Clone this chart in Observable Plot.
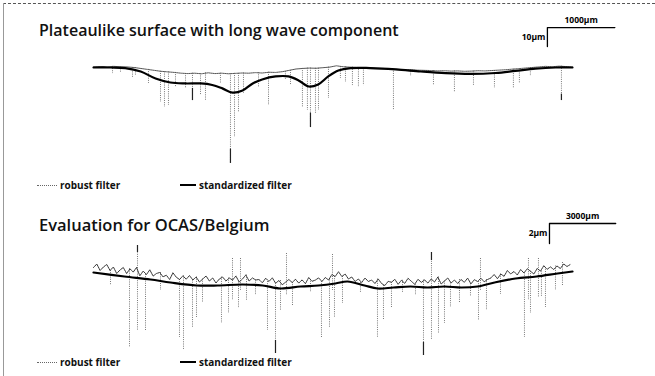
<!DOCTYPE html>
<html><head><meta charset="utf-8">
<script src="https://cdn.jsdelivr.net/npm/d3@7"></script>
<script src="https://cdn.jsdelivr.net/npm/@observablehq/plot@0.6"></script>
<style>
html,body{margin:0;padding:0;background:#fff;}
#page{position:relative;width:655px;height:376px;overflow:hidden;font-family:"Open Sans",sans-serif;color:#111;}
.frameTop{position:absolute;left:3px;top:3px;width:652px;border-top:1px dashed #555;}
.frameLeft{position:absolute;left:3px;top:3px;height:373px;border-left:1px solid #999;}
.title{position:absolute;left:39px;font-size:16px;line-height:16px;font-weight:600;white-space:nowrap;}
.legend{position:absolute;font-size:10px;line-height:10px;font-weight:700;display:flex;align-items:center;white-space:nowrap;}
.sw{display:inline-block;margin-right:3px;}
.plot{position:absolute;left:0;}
</style></head><body>
<div id="page">
  <div class="frameTop"></div><div class="frameLeft"></div>
  <div class="title" id="t1" style="top:22px"></div>
  <div class="title" id="t2" style="top:217px;font-size:16.5px"></div>
  <div class="plot" id="p1" style="top:0px"></div>
  <div class="plot" id="p2" style="top:190px"></div>
  <div id="legends"></div>
</div>
<script>
// ---------- data ----------
const titles = ["Plateaulike surface with long wave component", "Evaluation for OCAS/Belgium"];
const legendLabels = ["robust filter", "standardized filter"];

// Panel 1: profile length 7100 µm, heights in µm
const xMax1 = 7100;
const robust1Step = 100;
const robust1 = [0.3,0.5,0.2,0.6,0.4,0.3,0,-0.5,-1.0,-1.5,
  -2.0,-2.3,-2.6,-3.0,-3.2,-3.0,-3.3,-2.8,-3.2,-3.0,
  -3.3,-3.1,-2.9,-3.0,-2.7,-2.9,-2.5,-2.6,-2.2,-1.5,
  -0.8,-0.5,-0.3,-0.4,-0.1,0.2,0.9,0.4,0.2,0,
  -0.2,-0.1,-0.4,-0.5,-0.8,-0.9,-1.2,-1.1,-1.4,-1.5,
  -1.6,-1.8,-1.7,-1.9,-1.8,-2.0,-1.9,-1.7,-1.8,-1.6,
  -1.4,-1.2,-0.9,-0.6,-0.3,0,0.3,0.6,0.4,0.7,
  0.5,0.3];
const std1X = [0,250,470,700,920,1140,1360,1590,1760,1910,2060,2210,2360,2500,2700,2890,3040,3190,3330,3480,3630,3810,4100,4480,4850,5220,5590,5960,6250,6550,6850,7100];
const std1V = [0,0,-0.3,-2.1,-5.8,-7.9,-8.4,-8.4,-9.2,-11,-13.2,-12.1,-8.4,-6.3,-4.7,-4.7,-6.8,-10,-8.9,-4.7,-1.6,-0.3,-0.3,-1,-2.1,-3,-3.4,-2.9,-1.8,-0.6,0,0];
const spike1X = [282,400,578,622,815,993,1052,1111,1215,1364,1467,1586,1660,1882,2030,2090,2149,2223,2446,2594,2845,2920,3097,3171,3216,3290,3335,3483,3660,3735,3838,3927,4001,4446,4700,5039,5350,5632,5943,6224,6313,6476,6936];
const spike1Depth = [-3.2,-2.6,-5.3,-4.2,-8.4,-18.4,-21,-20,-10.5,-11,-17.4,-14.7,-17.4,-8.4,-50.5,-36.8,-23.7,-13.7,-10.5,-20,-6.8,-9.5,-21,-22.6,-31.6,-24.2,-22.6,-16.3,-5.8,-7.9,-9.5,-10.5,-9.5,-22.6,-4.7,-9.5,-13.2,-9.5,-11,-11,-8.4,-4.7,-17.4];
// dark solid lower ends of some valleys
const tip1X = [1467, 2030, 3216, 6936];
const tip1From = [-11, -43, -24, -14];
const tip1To = [-17.4, -50.5, -31.6, -17.4];
const scale1 = {length: 1000, height: 10, xLabel: "1000µm", yLabel: "10µm"};

// Panel 2: profile length 21700 µm, heights in µm
const xMax2 = 21700;
const robust2Step = 150;
const robust2 = [0.3,0.65,0,0.35,0.6,0,0.35,-0.3,0.05,0.3,
  -0.3,0.17,-0.16,0.3,-0.53,-0.06,-0.4,0.07,-0.56,-0.3,
  -0.2,-0.63,-0.47,-0.9,-0.23,-0.67,-0.9,-0.53,-0.87,-0.5,
  -0.95,-0.65,-1.15,-0.85,-0.55,-1.05,-0.75,-1.25,-0.85,-0.65,
  -1.05,-0.75,-0.95,-0.55,-1.15,-0.85,-0.45,-1.05,-0.75,-0.95,
  -0.9,-1.23,-0.77,-1.1,-0.73,-1.27,-1.0,-1.43,-1.17,-0.9,
  -1.2,-0.88,-1.26,-0.94,-1.32,-0.7,-1.08,-0.96,-0.74,-1.1,
  -0.7,-0.95,-0.4,-0.6,-0.12,-0.6,-0.35,-0.85,-0.65,-1.1,
  -0.85,-1.2,-0.75,-1.1,-0.95,-1.3,-0.85,-1.3,-1.5,-1.08,
  -1.18,-0.88,-1.38,-0.98,-1.28,-0.78,-1.08,-1.38,-0.88,-1.18,
  -0.95,-1.25,-0.85,-1.15,-0.65,-1.35,-1.05,-0.75,-1.25,-0.95,
  -1.3,-0.9,-1.18,-0.76,-1.34,-0.92,-1.1,-0.77,-1.13,-0.9,
  -0.75,-0.4,-0.82,-0.35,-0.58,0,-0.35,-0.1,-0.45,0.1,
  -0.25,0.18,-0.08,-0.35,0.2,-0.06,0.48,0.12,0.36,0.1,
  0.45,0.2,0.65,0.4,0.6];
const std2X = [0,1400,2580,3490,4670,5620,6750,7660,8470,9380,10190,10960,11510,12280,12870,13590,14360,15130,15900,16670,17400,18170,19120,20070,21020,21700];
const std2V = [-0.2,-0.6,-0.9,-1.2,-1.5,-1.5,-1.4,-1.5,-1.8,-1.6,-1.5,-1.3,-1.1,-1.5,-1.8,-1.7,-1.6,-1.7,-1.6,-1.7,-1.6,-1.2,-0.8,-0.6,-0.3,-0.1];
const spike2X = [770,1631,1993,2356,3035,3896,4077,4485,4666,4938,5798,6116,6297,6569,6659,6931,7339,7882,8245,8471,8743,9015,9830,10328,10691,10827,10917,11280,12095,12865,13137,13499,13998,14587,14949,15311,15629,15900,16172,16580,17078,17441,17531,17803,18437,19524,19705,19796,20158,20294,20476,20929,21246];
const spike2Top = [null,null,2.5,null,null,null,null,null,null,null,null,null,1.2,null,1.2,null,null,null,null,null,1.7,null,null,null,null,1.6,null,null,null,null,null,null,null,null,null,1.8,null,null,null,null,null,null,1.2,null,null,null,1.2,null,1.2,null,null,null,0.8];
const spike2Depth = [-1.5,-7.7,-6,-6,-2,-6.7,-8,-5.7,-4.7,-3.2,-5.3,-4.3,-3,-3.8,-2,-3,-2.5,-6,-8.3,-4,-2.5,-3.5,-2.2,-6.7,-5.7,-2,-4.7,-3.3,-2.3,-6.7,-5,-3.7,-2.2,-2.5,-8.5,-7,-6.3,-5.3,-3.7,-3.3,-2.6,-5,-2,-4,-2.4,-6.7,-3,-4.3,-2.7,-2.7,-3.7,-2,-1.5];
const tip2X = [8245, 14949, 1993, 15311];
const tip2From = [-7, -7.2, 1.8, 1.0];
const tip2To = [-8.3, -8.5, 2.5, 1.8];
const scale2 = {length: 3000, height: 2, xLabel: "3000µm", yLabel: "2µm"};

// ---------- build ----------
function profile(vals, step) { return vals.map((v, i) => ({x: i * step, v})); }
function spikes(xs, depths, tops, prof, step) {
  return xs.map((x, i) => {
    const top = tops && tops[i] != null ? tops[i] : prof[Math.min(prof.length - 1, Math.round(x / step))].v;
    return {x, top, depth: depths[i]};
  });
}
function panel(o) {
  const prof = profile(o.robust, o.step);
  const sp = spikes(o.spikeX, o.spikeDepth, o.spikeTop, prof, o.step);
  const std = o.stdX.map((x, i) => ({x, v: o.stdV[i]}));
  const tips = o.tipX.map((x, i) => ({x, a: o.tipFrom[i], b: o.tipTo[i]}));
  const sb = o.scale, cx = o.barX, cy = o.barY;
  const barPath = [{x: cx + sb.length, y: cy}, {x: cx, y: cy}, {x: cx, y: cy - sb.height}];
  return Plot.plot({
    width: 655, height: o.height,
    marginLeft: 93, marginRight: 83, marginTop: o.mt, marginBottom: o.mb,
    x: {domain: [0, o.xMax], axis: null},
    y: {domain: o.yDomain, axis: null},
    style: {fontFamily: "Open Sans, sans-serif", background: "transparent", overflow: "visible"},
    marks: [
      Plot.ruleX(sp, {x: "x", y1: "top", y2: "depth", stroke: "#777", strokeWidth: 1, strokeDasharray: "1 1.2"}),
      Plot.ruleX(tips, {x: "x", y1: "a", y2: "b", stroke: "#222", strokeWidth: 1.2}),
      Plot.line(prof, {x: "x", y: "v", stroke: o.robustColor, strokeWidth: 1, strokeDasharray: "1.2 0.8"}),
      Plot.line(std, {x: "x", y: "v", stroke: "#000", strokeWidth: o.stdWidth, curve: "catmull-rom"}),
      Plot.line(barPath, {x: "x", y: "y", stroke: "#000", strokeWidth: 1.3}),
      Plot.text([sb.xLabel], {x: cx + sb.length / 2, y: cy, text: d => d, dy: -7, fontSize: 8.5, fontWeight: "bold", fill: "#000"}),
      Plot.text([sb.yLabel], {x: cx, y: cy - sb.height / 2, text: d => d, textAnchor: "end", dx: -2, fontSize: 8.5, fontWeight: "bold", fill: "#000"})
    ]
  });
}

document.getElementById("t1").textContent = titles[0];
document.getElementById("t2").textContent = titles[1];

document.getElementById("p1").append(panel({
  robust: robust1, step: robust1Step, spikeX: spike1X, spikeDepth: spike1Depth, spikeTop: null,
  tipX: tip1X, tipFrom: tip1From, tipTo: tip1To,
  stdX: std1X, stdV: std1V, scale: scale1, barX: 6728, barY: 21,
  xMax: xMax1, yDomain: [-62, 25], height: 190, mt: 19.5, mb: 5.2, robustColor: "#555", stdWidth: 2.2
}));
document.getElementById("p2").append(panel({
  robust: robust2, step: robust2Step, spikeX: spike2X, spikeDepth: spike2Depth, spikeTop: spike2Top,
  tipX: tip2X, tipFrom: tip2From, tipTo: tip2To,
  stdX: std2X, stdV: std2V, scale: scale2, barX: 20657, barY: 4.7,
  xMax: xMax2, yDomain: [-9, 5.5], height: 186, mt: 25, mb: 16, robustColor: "#333", stdWidth: 2.2
}));

// legends
const legTops = [180, 357];
const leg = document.getElementById("legends");
legTops.forEach(t => {
  [[37, "border-top:1px dotted #666;width:20px;height:0"], [180, "border-top:2px solid #000;width:16px;height:0"]].forEach(([l, sty], k) => {
    const d = document.createElement("div");
    d.className = "legend";
    d.style.left = l + "px"; d.style.top = t + "px";
    const s = document.createElement("span"); s.className = "sw"; s.setAttribute("style", sty);
    const tx = document.createElement("span"); tx.textContent = legendLabels[k];
    d.append(s, tx); leg.append(d);
  });
});
</script>
</body></html>
